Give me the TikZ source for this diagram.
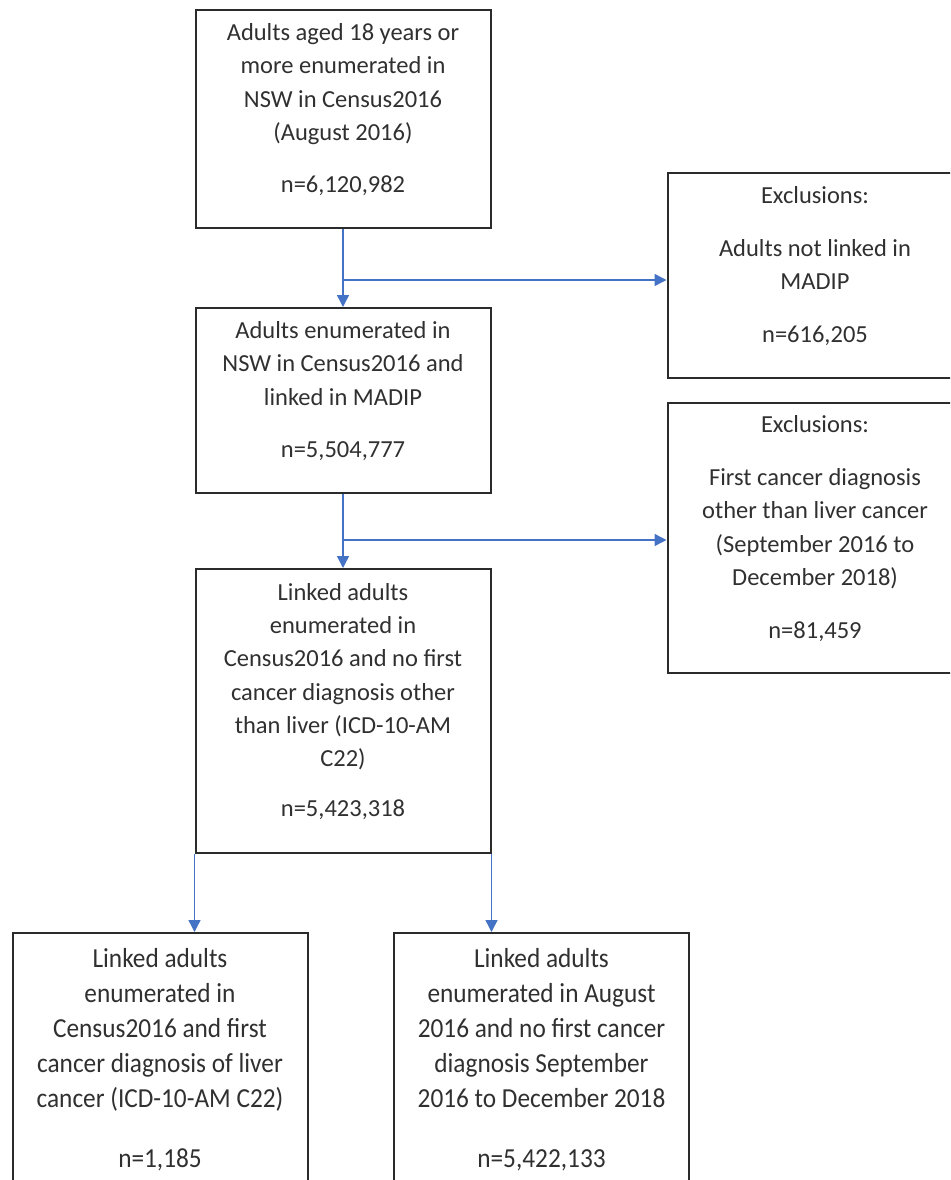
\documentclass[tikz,border=0pt]{standalone}
\usepackage{fontspec}
\setmainfont{Carlito}
\newfontfamily\narrowfont[FakeStretch=0.92]{Carlito}
\usetikzlibrary{arrows.meta, positioning}

\definecolor{flowblue}{HTML}{4472C4}
\definecolor{boxline}{HTML}{2B2B2B}
\definecolor{boxtext}{HTML}{303030}

\begin{document}
\begin{tikzpicture}[x=1pt, y=-1pt,
    box/.style={draw=boxline, line width=2pt, align=center, text=boxtext,
        font=\fontsize{24.5}{33.3}\selectfont, minimum width=295, inner sep=0pt,
        text depth=22pt},
    lowbox/.style={box, font=\narrowfont\fontsize{27.5}{35}\selectfont},
    flow/.style={draw=flowblue, line width=1.4pt, -{Triangle[length=12pt, width=12pt]}}]

            \useasboundingbox (0,0) rectangle (950,1180);
            \clip (0,0) rectangle (950,1180);

            \node[box, minimum height=218] (census) at (343, 119) {Adults aged 18 years or\\more enumerated in\\NSW in Census2016\\(August 2016)\\[19pt]n=6,120,982};
            \node[box, minimum height=205] (notlinked) at (815, 275.5) {Exclusions:\\[20pt]Adults not linked in\\MADIP\\[20pt]n=616,205};
            \node[box, minimum height=185] (linked) at (343, 400.5) {Adults enumerated in\\NSW in Census2016 and\\linked in MADIP\\[19pt]n=5,504,777};
            \node[box, minimum height=270] (othercancer) at (815, 538) {Exclusions:\\[20pt]First cancer diagnosis\\other than liver cancer\\(September 2016 to\\December 2018)\\[20pt]n=81,459};
            \node[box, minimum height=284] (noother) at (343, 711) {Linked adults\\enumerated in\\Census2016 and no first\\cancer diagnosis other\\than liver (ICD-10-AM\\C22)\\[17pt]n=5,423,318};
            \node[lowbox, minimum height=272] (liver) at (160, 1069) {Linked adults\\enumerated in\\Census2016 and first\\cancer diagnosis of liver\\cancer (ICD-10-AM C22)\\[25pt]n=1,185};
            \node[lowbox, minimum height=272] (nocancer) at (541.5, 1069) {Linked adults\\enumerated in August\\2016 and no first cancer\\diagnosis September\\2016 to December 2018\\[25pt]n=5,422,133};

            \coordinate (split1) at (344, 280);
            \coordinate (split2) at (344, 540);

            \draw[flow] (census.south) -- (linked.north);
            \draw[flow] (split1) -- (split1 -| notlinked.west);
            \draw[flow] (linked.south) -- (noother.north);
            \draw[flow] (split2) -- (split2 -| othercancer.west);
            \draw[flow] (noother.south west) -- (noother.south west |- liver.north);
            \draw[flow] (noother.south east) -- (noother.south east |- nocancer.north);
        \end{tikzpicture}
\end{document}
